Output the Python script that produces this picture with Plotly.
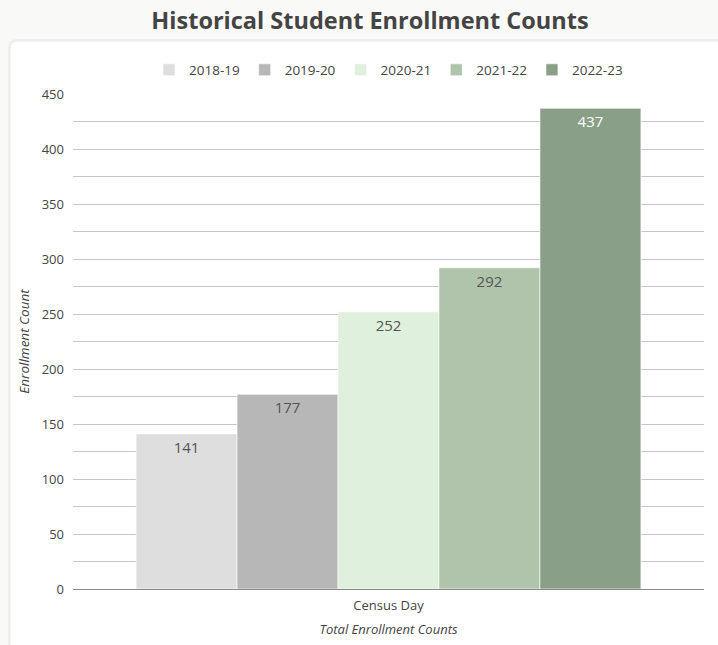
import plotly.graph_objects as go

years = ["2018-19", "2019-20", "2020-21", "2021-22", "2022-23"]
counts = [141, 177, 252, 292, 437]
colors = ["#dedede", "#b7b7b7", "#dff0dc", "#afc4ab", "#8a9f87"]
text_colors = ["#555555", "#555555", "#555555", "#555555", "#ffffff"]
category = "Census Day"

W, H = 718, 645
ML, MR, MT, MB = 73, 14, 94, 56
PW, PH = W - ML - MR, H - MT - MB
BG = "#f9f9f7"

fig = go.Figure()
for y, c, col, tc in zip(years, counts, colors, text_colors):
    fig.add_trace(go.Bar(
        name=y, x=[category], y=[c],
        marker=dict(color=col, line=dict(color="rgba(255,255,255,0.6)", width=1)),
        text=[str(c)], textposition="inside", insidetextanchor="end",
        textangle=0, textfont=dict(color=tc, size=15, family="Open Sans"),
        hoverinfo="skip",
    ))


def px2x(px):
    return (px - ML) / PW


def py2y(py):
    return (H - MB - py) / PH


def rounded(x0p, y0p, x1p, y1p, r):
    rx = r / PW
    ry = r / PH
    x0, x1 = px2x(x0p), px2x(x1p)
    yt, yb = py2y(y0p), py2y(y1p)
    return (f"M {x0+rx},{yt} L {x1-rx},{yt} Q {x1},{yt} {x1},{yt-ry} "
            f"L {x1},{yb+ry} Q {x1},{yb} {x1-rx},{yb} L {x0+rx},{yb} "
            f"Q {x0},{yb} {x0},{yb+ry} L {x0},{yt-ry} Q {x0},{yt} {x0+rx},{yt} Z")


shapes = [
    dict(type="path", xref="paper", yref="paper", layer="below",
         path=rounded(8, 39, 735, 665, 9), fillcolor="#efefed", line=dict(width=0)),
    dict(type="path", xref="paper", yref="paper", layer="below",
         path=rounded(10, 41, 733, 663, 8), fillcolor="#ffffff",
         line=dict(color="#ebebea", width=1)),
]

fig.update_layout(
    width=W, height=H,
    margin=dict(l=ML, r=MR, t=MT, b=MB, pad=0, autoexpand=False),
    paper_bgcolor=BG,
    plot_bgcolor="rgba(0,0,0,0)",
    font=dict(family="Open Sans", color="#444444", size=13),
    title=dict(text="<b>Historical Student Enrollment Counts</b>",
               x=370 / W, xref="container", xanchor="center",
               y=1 - 21 / H, yanchor="middle",
               font=dict(size=23.5, color="#444444", family="Open Sans")),
    barmode="group", bargap=0.2, bargroupgap=0,
    showlegend=True,
    legend=dict(orientation="h", x=0.5, xanchor="center", y=py2y(70), yanchor="middle",
                font=dict(size=13.5, color="#444444"), bgcolor="rgba(0,0,0,0)",
                traceorder="normal", itemclick=False),
    shapes=shapes,
    xaxis=dict(
        showgrid=False, showline=True, linecolor="#8a8a8a", linewidth=1,
        ticks="", ticklabelstandoff=4, tickfont=dict(size=13, color="#444444"),
        automargin=False,
        title=dict(text="<i>Total Enrollment Counts</i>", font=dict(size=13, color="#444444"),
                   standoff=12),
    ),
    yaxis=dict(
        range=[0, 450], dtick=50, tick0=0,
        showgrid=True, gridcolor="#c6c6c6", gridwidth=1,
        minor=dict(dtick=25, showgrid=True, gridcolor="#c6c6c6", gridwidth=1),
        zeroline=True, zerolinecolor="#8a8a8a", zerolinewidth=1,
        showline=False, ticks="", ticklabelstandoff=8,
        tickfont=dict(size=13, color="#444444"),
        automargin=False,
        title=dict(text="<i>Enrollment Count</i>", font=dict(size=13.5, color="#444444"),
                   standoff=8),
    ),
)

fig.write_html(
    "out.html",
    config={"displayModeBar": False},
    post_script=f"document.body.style.margin='0';document.body.style.background='{BG}';",
)
